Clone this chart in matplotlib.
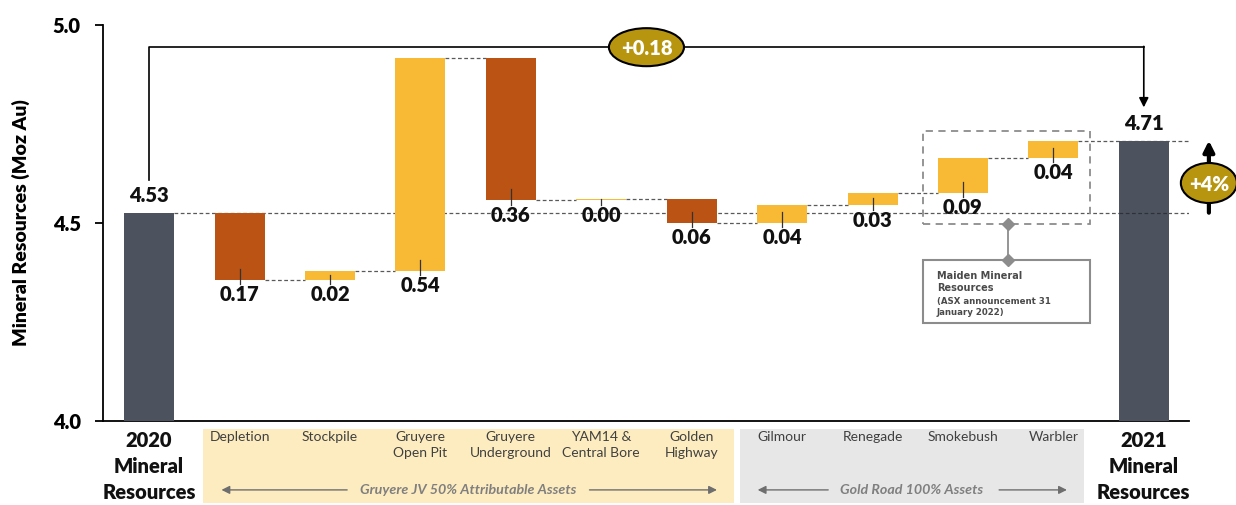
import matplotlib
matplotlib.use('Agg')
import matplotlib.pyplot as plt
import numpy as np
from matplotlib.patches import Ellipse, Rectangle

plt.rcParams['font.family'] = ['Lato', 'DejaVu Sans']

# data
categories = ['2020\nMineral\nResources', 'Depletion', 'Stockpile', 'Gruyere\nOpen Pit',
              'Gruyere\nUnderground', 'YAM14 &\nCentral Bore', 'Golden\nHighway',
              'Gilmour', 'Renegade', 'Smokebush', 'Warbler', '2021\nMineral\nResources']
start_total = 4.526
changes = [-0.170, 0.023, 0.538, -0.360, 0.004, -0.060, 0.044, 0.031, 0.088, 0.044]
change_labels = ['0.17', '0.02', '0.54', '0.36', '0.00', '0.06', '0.04', '0.03', '0.09', '0.04']
total_labels = ['4.53', '4.71']
group_labels = ['Gruyere JV 50% Attributable Assets', 'Gold Road 100% Assets']
net_change_label = '+0.18'
pct_change_label = '+4%'
yticks = [4.0, 4.5, 5.0]

C_TOTAL = '#4D535E'
C_UP = '#F8B935'
C_DOWN = '#BA5313'
C_BADGE = '#B8950F'
C_LINE = '#595959'
BOLD = 'heavy'

fig = plt.figure(figsize=(12.36, 5.05), dpi=100)
ax = fig.add_axes([103 / 1236, 84 / 505, 1086 / 1236, 396 / 505])
ax.set_xlim(-0.51, 11.5)
ax.set_ylim(4.0, 5.0)

W = 0.553
x = np.arange(len(categories))
levels = start_total + np.cumsum(changes)
prev = np.concatenate([[start_total], levels[:-1]])
end_total = levels[-1]

# totals
ax.bar([x[0], x[-1]], [start_total - 4.0, end_total - 4.0], bottom=4.0, width=W,
       color=C_TOTAL, zorder=3)
# floating changes
bottoms = np.minimum(prev, levels)
heights = np.abs(np.array(changes))
colors = [C_UP if c >= 0 else C_DOWN for c in changes]
ax.bar(x[1:-1], heights, bottom=bottoms, width=W, color=colors, zorder=3)

# connectors
dash = dict(color=C_LINE, lw=0.9, ls=(0, (3, 2)), zorder=2)
ax.plot([x[0] + W / 2, 11.75], [start_total, start_total], **dash)
ax.plot([x[-1] - W / 2, x[-1] + W / 2], [start_total, start_total],
        color='#2E3238', lw=0.9, ls=(0, (3, 2)), zorder=4)
for i, lv in enumerate(levels):
    x0 = x[i + 1] + W / 2
    x1 = 11.75 if i == len(levels) - 1 else x[i + 2] - W / 2
    ax.plot([x0, x1], [lv, lv], **dash)

# change labels with leader ticks
for i, (b, h, lab) in enumerate(zip(bottoms, heights, change_labels)):
    xi = x[i + 1]
    ax.plot([xi, xi], [b + min(0.028, 0.6 * h), b - 0.011], color='#333333', lw=0.9, zorder=4)
    ax.text(xi, b - 0.054, lab, ha='center', va='baseline', fontsize=14.5,
            fontweight=BOLD, color='#111111', zorder=5)

for xi, v, lab in zip([x[0], x[-1]], [start_total, end_total], total_labels):
    ax.text(xi, v + 0.026, lab, ha='center', va='baseline', fontsize=14.5,
            fontweight=BOLD, color='#111111')

# top bracket with net change
ytop = 4.944
ax.plot([x[0], x[0], x[-1]], [4.609, ytop, ytop], color='black', lw=1.2, zorder=4)
ax.annotate('', xy=(x[-1], 4.792), xytext=(x[-1], ytop + 0.002),
            arrowprops=dict(arrowstyle='-|>', color='black', lw=1.2, mutation_scale=14,
                            shrinkA=0, shrinkB=0))
ax.add_patch(Ellipse((5.5, ytop), 0.83, 0.096, facecolor=C_BADGE, edgecolor='black',
                     lw=1.5, zorder=6))
ax.text(5.5, ytop, net_change_label, ha='center', va='center_baseline', fontsize=14.5,
        fontweight=BOLD, color='white', zorder=7)

# percent change arrow on the right
xr = 11.72
ax.annotate('', xy=(xr, end_total), xytext=(xr, start_total),
            arrowprops=dict(arrowstyle='-|>', color='black', lw=3, mutation_scale=16,
                            shrinkA=0, shrinkB=0), annotation_clip=False)
ax.add_patch(Ellipse((xr, 4.601), 0.62, 0.101, facecolor=C_BADGE, edgecolor='black',
                     lw=1.5, zorder=6, clip_on=False))
ax.text(xr, 4.601, pct_change_label, ha='center', va='center_baseline', fontsize=14.5,
        fontweight=BOLD, color='white', zorder=7, clip_on=False)

# maiden resources callout
ax.add_patch(Rectangle((8.557, 4.497), 1.843, 0.235, fill=False, edgecolor='#8C8C8C',
                       lw=1.3, ls=(0, (4, 3)), zorder=5))
ax.plot([9.5, 9.5], [4.497, 4.407], color='#8C8C8C', lw=1.3, zorder=5)
ax.plot([9.5, 9.5], [4.497, 4.407], ls='none', marker='D', ms=6, color='#8C8C8C', zorder=6)
ax.add_patch(Rectangle((8.557, 4.247), 1.843, 0.160, facecolor='white', edgecolor='#8C8C8C',
                       lw=1.5, zorder=5))
box_font = ['DejaVu Sans']
ax.text(8.71, 4.359, 'Maiden Mineral', fontsize=7, fontweight='bold', color='#4A4A4A',
        family=box_font, zorder=7)
ax.text(8.71, 4.328, 'Resources', fontsize=7, fontweight='bold', color='#4A4A4A',
        family=box_font, zorder=7)
ax.text(8.71, 4.296, '(ASX announcement 31', fontsize=6.2, fontweight='bold',
        color='#4A4A4A', family=box_font, zorder=7)
ax.text(8.71, 4.268, 'January 2022)', fontsize=6.2, fontweight='bold',
        color='#4A4A4A', family=box_font, zorder=7)

# axes styling
for s in ['top', 'right']:
    ax.spines[s].set_visible(False)
for s in ['left', 'bottom']:
    ax.spines[s].set_linewidth(1.3)
ax.set_xticks([])
ax.set_yticks(yticks)
ax.set_yticklabels([f'{t:.1f}' for t in yticks], fontsize=14.5, fontweight=BOLD)
ax.tick_params(axis='y', length=6, width=1.3, pad=10)
ax.set_ylabel('Mineral Resources (Moz Au)', fontsize=14, fontweight=BOLD)
ax.yaxis.set_label_coords(-0.0672, 0.5)

# category area below the axis
tr = ax.get_xaxis_transform()
ax.add_patch(Rectangle((0.597, -0.207), 5.873, 0.187, transform=tr, facecolor='#FDECC0',
                       edgecolor='none', clip_on=False, zorder=0))
ax.add_patch(Rectangle((6.533, -0.207), 3.807, 0.187, transform=tr, facecolor='#E7E7E7',
                       edgecolor='none', clip_on=False, zorder=0))
for xi, lab in zip(x, categories):
    if 'Mineral' in lab:
        ax.text(xi, -0.026, lab, transform=tr, ha='center', va='top', fontsize=14.5,
                fontweight=BOLD, color='#111111', linespacing=1.42)
    else:
        ax.text(xi, -0.026, lab, transform=tr, ha='center', va='top', fontsize=10,
                color='#404040', linespacing=1.4)

arrow_kw = dict(arrowstyle='-|>', color='#6E6E6E', lw=1.0, mutation_scale=12,
                shrinkA=0, shrinkB=0)
group_text = [(3.527, group_labels[0], (2.19, 0.80), (4.87, 6.28)),
              (8.43, group_labels[1], (7.51, 6.73), (9.40, 10.15))]
for xc, lab, left, right in group_text:
    ax.text(xc, -0.174, lab, transform=tr, ha='center', va='center', fontsize=10.3,
            fontweight='bold', fontstyle='italic', color='#7F7F7F')
    for tail, head in [left, right]:
        ax.annotate('', xy=(head, -0.174), xytext=(tail, -0.174), xycoords=tr,
                    textcoords=tr, arrowprops=arrow_kw, annotation_clip=False)

fig.savefig('out.png', dpi=100)
